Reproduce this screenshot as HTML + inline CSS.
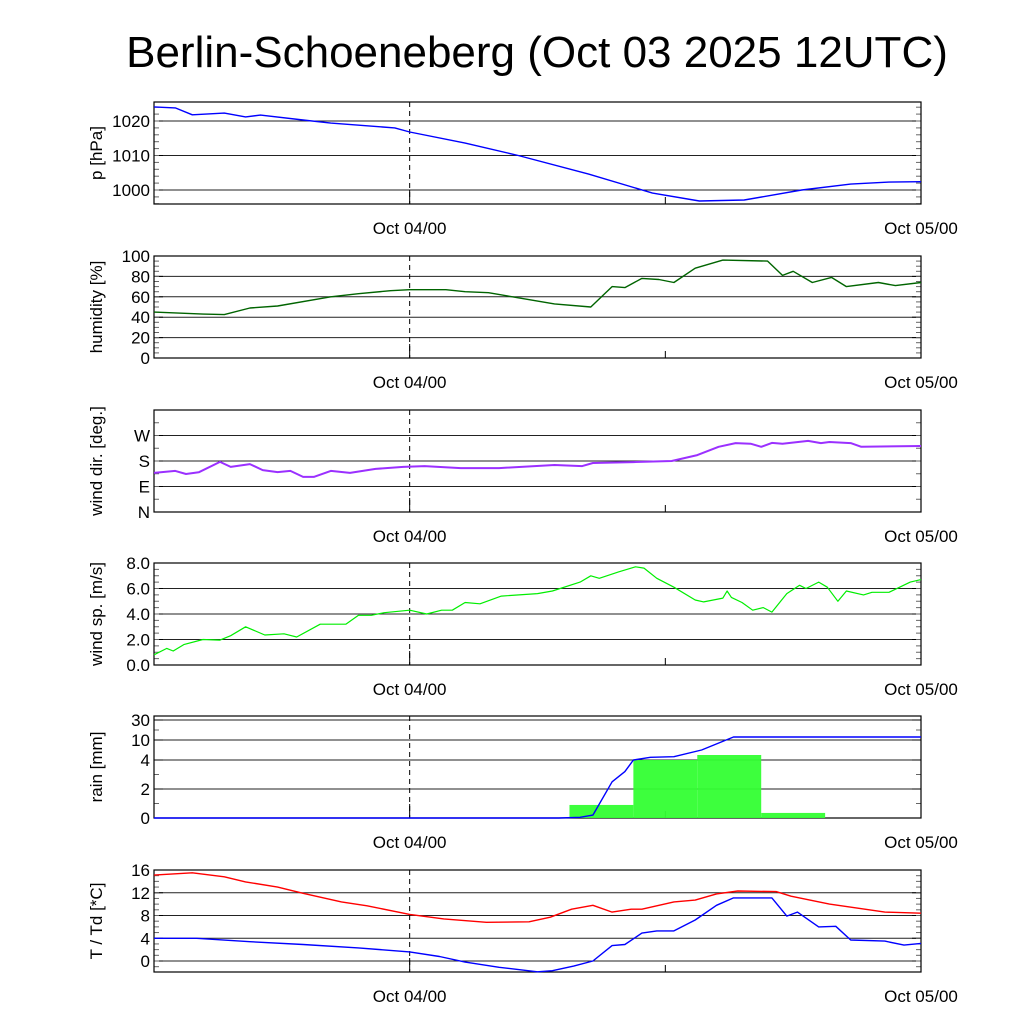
<!DOCTYPE html>
<html><head><meta charset="utf-8"><style>
html,body{margin:0;padding:0;background:#fff;}
svg{display:block;font-family:"Liberation Sans",sans-serif;}
</style></head><body>
<svg id="chart" width="1024" height="1024" viewBox="0 0 1024 1024" xmlns="http://www.w3.org/2000/svg">
<text x="537" y="67" font-size="44" text-anchor="middle">Berlin-Schoeneberg (Oct 03 2025 12UTC)</text>
</svg>
<script>
// hours since Oct 03 12UTC
const pTime=[0,1,1.8,3.3,4.3,5,7,8.3,11.3,12,14.6,17.1,20.4,23.4,25.6,27.7,30.4,32.7,34.5,36];
const pVal=[1024.1,1023.8,1021.8,1022.3,1021.2,1021.7,1020.3,1019.4,1018,1016.8,1013.6,1010,1004.6,999.1,996.8,997.1,1000,1001.7,1002.3,1002.4];
const hTime=[0,2.3,3.3,4.5,5.8,8.3,9.6,11.1,12,13.7,14.6,15.7,17.1,18.8,20.5,21.5,22.1,22.9,23.7,24.4,25.4,26.7,28.8,29.5,30,30.9,31.8,32.5,34,34.8,36];
const hVal=[45,43,42.5,49,51,60,63,66,67,67,65,64,59,53,50,70,69,78,77,74,88,96,95,81,85,74,79,70,74,71,74];
const dTime=[0,1,1.5,2.1,3.1,3.6,4.5,5.1,5.8,6.4,7,7.5,8.3,9.2,10.4,11.7,12.7,14.4,16.2,18.8,20.1,20.6,22.5,24.3,25.5,26.5,27.3,28,28.5,29,29.5,30.7,31.3,31.7,32.7,33.2,36];
const dVal=[138,145,134,140,177,159,169,148,141,145,124,124,145,138,152,159,162,155,155,166,162,173,176,180,201,230,243,241,230,244,241,251,243,247,243,230,233];
const sTime=[0,0.6,0.9,1.4,2.3,3.1,3.6,4.3,5.2,6.1,6.7,7.8,9,9.6,10.2,10.8,12,12.8,13.5,14,14.6,15.3,16.3,18,18.7,20,20.5,20.9,21.8,22.6,23,23.6,24.4,25.4,25.8,26.7,26.9,27.1,27.6,28.1,28.6,29,29.7,30.3,30.6,31.2,31.6,32.1,32.5,33.3,33.7,34.5,35.5,36];
const sVal=[0.8,1.3,1.1,1.6,2.0,1.95,2.3,3.0,2.35,2.45,2.2,3.2,3.2,3.9,3.9,4.1,4.3,4.0,4.3,4.3,4.9,4.8,5.4,5.6,5.8,6.5,7.0,6.8,7.3,7.7,7.6,6.8,6.1,5.1,4.95,5.25,5.8,5.3,4.9,4.3,4.5,4.15,5.6,6.25,6.0,6.5,6.1,5.0,5.8,5.5,5.7,5.7,6.5,6.7];
const rainBinStart=[19.5,22.5,25.5,28.5];
const rainBinVal=[0.9,4.0,5.5,0.35];
const rcTime=[0,19,20,20.6,21.5,22.1,22.5,23.3,24.4,25.7,27.2,36];
const rcVal=[0,0,0.05,0.2,2.5,3.2,4.0,4.8,5.0,7.0,13,13];
const tTime=[0,1.8,3.3,4.3,5.8,7,8.8,10,12,13.6,15.6,17.6,18.6,19.6,20.6,21.5,22.4,22.9,24.4,25.4,26.4,27.4,29.2,29.9,31.7,33,34.3,36];
const tVal=[15.1,15.5,14.8,13.9,13,11.9,10.4,9.7,8.2,7.4,6.8,6.9,7.7,9.1,9.8,8.6,9.1,9.1,10.4,10.7,11.8,12.3,12.2,11.4,10,9.3,8.6,8.4];
const tdTime=[0,2,4.5,7,9.6,12,13.4,14.6,16.2,18,18.7,19.7,20.6,21.5,22.1,22.9,23.6,24.4,25.4,26.4,27.2,29,29.7,30.2,31.2,32,32.7,34.3,35.2,36];
const tdVal=[4.0,4.0,3.4,2.9,2.3,1.6,0.8,-0.2,-1.1,-1.9,-1.7,-0.9,0,2.7,2.9,4.9,5.3,5.3,7.2,9.8,11.1,11.1,7.9,8.6,6,6.1,3.7,3.5,2.8,3.1];
const pTicks=[1000,1010,1020];
const hTicks=[0,20,40,60,80,100];
const dTicks=[0,90,180,270];
const dTickLabels=['N','E','S','W'];
const sTicks=[0,2,4,6,8];
const rTicks=[0,2,4,10,30];
const tTicks=[0,4,8,12,16];
const xTickHours=[12,36];
const xTickLabels=['Oct 04/00','Oct 05/00'];

const NS='http://www.w3.org/2000/svg';
const svg=document.getElementById('chart');
const X0=154,X1=921,HSPAN=36;
function xs(h){return X0+(h/HSPAN)*(X1-X0);}
function mk(tag,attrs,parent){const e=document.createElementNS(NS,tag);for(const k in attrs)e.setAttribute(k,attrs[k]);(parent||svg).appendChild(e);return e;}
function lin(d0,d1,p0,p1){return v=>p0+(v-d0)/(d1-d0)*(p1-p0);}
const rainKnots=[0,2,4,10,30,33],rainPx=[0,29,58,78,98,102];
function rainScale(top,bot){return v=>{let i=0;while(i<rainKnots.length-2&&v>rainKnots[i+1])i++;const f=(v-rainKnots[i])/(rainKnots[i+1]-rainKnots[i]);return bot-(rainPx[i]+f*(rainPx[i+1]-rainPx[i]));};}

function panel(name,top,ys,ticks,labels,minor,ylabel){
  const bot=top+102;
  const g=mk('g',{});
  
  
  ticks.forEach((t,i)=>{const y=ys(t);
    const l=mk('line',{x1:X0,x2:X1,y1:y,y2:y,stroke:'#222','stroke-width':1},g);
    
    
    const tx=mk('text',{x:X0-4,y:y+6,'font-size':17,'text-anchor':'end'},g);
    
    
    tx.textContent=labels[i];
    mk('line',{x1:X0,x2:X0+9,y1:y,y2:y,stroke:'#000'},g);
    mk('line',{x1:X1-9,x2:X1,y1:y,y2:y,stroke:'#000'},g);
  });
  minor.forEach(t=>{const y=ys(t);if(y<top||y>bot)return;
    mk('line',{x1:X0,x2:X0+5,y1:y,y2:y,stroke:'#666'},g);
    mk('line',{x1:X1-5,x2:X1,y1:y,y2:y,stroke:'#666'},g);});
  const dl=mk('line',{x1:xs(12),x2:xs(12),y1:top,y2:bot,stroke:'#000','stroke-dasharray':'5,4'},g);
  
  
  mk('line',{x1:xs(12),x2:xs(12),y1:bot-14,y2:bot,stroke:'#000'},g);
  mk('line',{x1:xs(24),x2:xs(24),y1:bot-7,y2:bot,stroke:'#000'},g);
  const fr=mk('rect',{x:X0,y:top,width:X1-X0,height:102,fill:'none',stroke:'#000','stroke-width':1.2},g);
  
  
  xTickHours.forEach((h,i)=>{const t=mk('text',{x:xs(h),y:bot+30,'font-size':17,'text-anchor':'middle'},g);
    
    
    t.textContent=xTickLabels[i];});
  const yl=mk('text',{x:0,y:0,'font-size':17,'text-anchor':'middle',transform:`translate(102,${top+51}) rotate(-90)`},g);
  
  
  yl.textContent=ylabel;
  return g;
}
function line(g,name,tArr,vArr,ys,color,w){
  const d=tArr.map((t,i)=>(i?'L':'M')+xs(t).toFixed(1)+','+ys(vArr[i]).toFixed(1)).join(' ');
  const p=mk('path',{d:d,fill:'none',stroke:color,'stroke-width':w||1.4,'stroke-linejoin':'round'},g);
  
  
}
function range(a,b,s){const r=[];for(let v=a;v<=b+1e-9;v+=s)r.push(v);return r;}

let ys,g;
ys=lin(1000,1010,190,155.5);
g=panel('pressure',102,ys,pTicks,pTicks.map(String),range(996,1024,2),'p [hPa]');
line(g,'pressure-line',pTime,pVal,ys,'#0000ff');

ys=lin(0,100,358,256);
g=panel('humidity',256,ys,hTicks,hTicks.map(String),range(0,100,5),'humidity [%]');
line(g,'humidity-line',hTime,hVal,ys,'#006400');

ys=lin(0,360,512,410);
g=panel('wind-direction',410,ys,dTicks,dTickLabels,range(0,360,45),'wind dir. [deg.]');
line(g,'wind-direction-line',dTime,dVal,ys,'#9b30ff',2);

ys=lin(0,8,665,563);
g=panel('wind-speed',563,ys,sTicks,sTicks.map(v=>v.toFixed(1)),range(0,8,0.5),'wind sp. [m/s]');
line(g,'wind-speed-line',sTime,sVal,ys,'#00ee00',1.2);

ys=rainScale(716,818);
g=panel('rain',716,ys,rTicks,rTicks.map(String),[1,3,20],'rain [mm]');
rainBinStart.forEach((h,i)=>{const y=ys(rainBinVal[i]);
  const r=mk('rect',{x:xs(h),y:y,width:xs(h+3)-xs(h),height:818-y,fill:'#33ff33','fill-opacity':0.95},g);
  
  });
line(g,'cumulative-rain-line',rcTime,rcVal,ys,'#0000ff');

ys=lin(0,16,961,870);
g=panel('temperature',870,ys,tTicks,tTicks.map(String),range(-1,16,1),'T / Td [*C]');
line(g,'temperature-line',tTime,tVal,ys,'#ff0000');
line(g,'dewpoint-line',tdTime,tdVal,ys,'#0000ff');
</script>
</body></html>
